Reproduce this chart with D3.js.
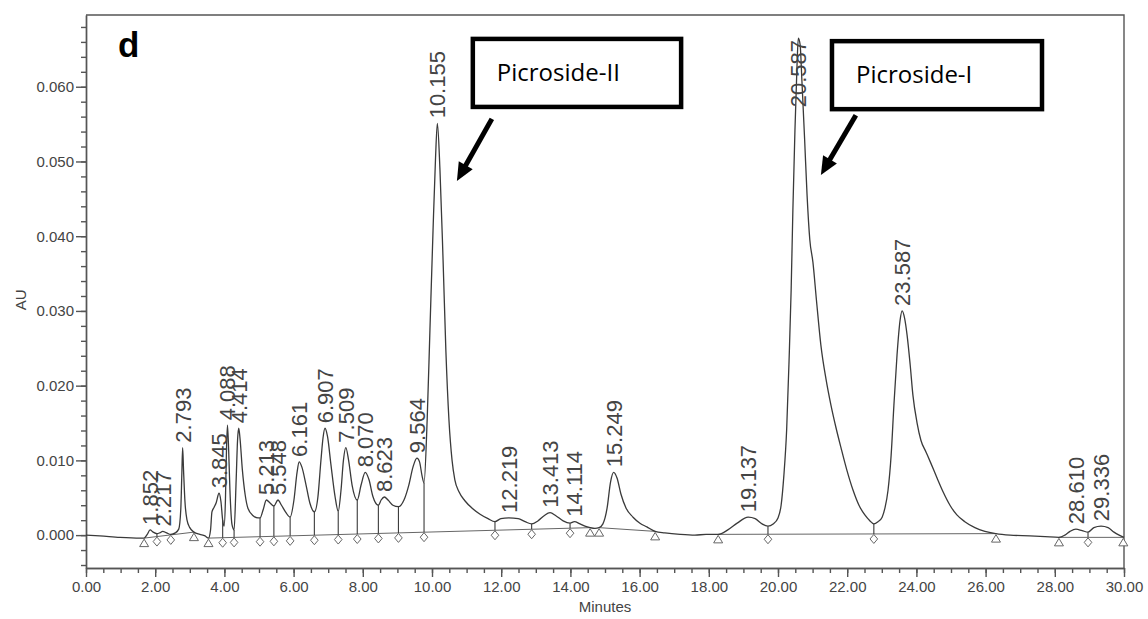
<!DOCTYPE html>
<html>
<head>
<meta charset="utf-8">
<script src="https://cdn.jsdelivr.net/npm/d3@7"></script>
<style>
  html, body { margin: 0; padding: 0; background: #fff; }
  svg { display: block; }
</style>
</head>
<body>
<svg id="chart" width="1148" height="619"></svg>
<script>
// Detector trace: [retention time (min), absorbance (AU)]
const trace = [
  [0.00, 0.0000], [0.40, -0.0001], [0.98, -0.0003], [1.56, -0.0004], [1.68, -0.0004],
  [1.77, 0.0001], [1.852, 0.0007], [1.94, 0.0004], [2.05, 0.0002], [2.13, 0.0003],
  [2.217, 0.0005], [2.33, 0.0003], [2.45, 0.0001], [2.58, 0.0003], [2.68, 0.0008],
  [2.74, 0.0035], [2.77, 0.0082], [2.793, 0.0117], [2.82, 0.0086], [2.86, 0.0045],
  [2.92, 0.0020], [3.00, 0.0010], [3.12, 0.0004], [3.29, 0.0001], [3.44, -0.0001],
  [3.54, -0.0004], [3.60, 0.0007], [3.64, 0.0031], [3.70, 0.0037], [3.76, 0.0043],
  [3.845, 0.0056], [3.90, 0.0045], [3.95, 0.0020], [3.99, 0.0012], [4.03, 0.0047],
  [4.06, 0.0114], [4.088, 0.0147], [4.12, 0.0118], [4.16, 0.0060], [4.22, 0.0014],
  [4.28, 0.0007], [4.34, 0.0074], [4.38, 0.0127], [4.414, 0.0143], [4.45, 0.0130],
  [4.52, 0.0087], [4.60, 0.0054], [4.68, 0.0036], [4.83, 0.0026], [4.97, 0.0023],
  [5.03, 0.0023], [5.12, 0.0034], [5.213, 0.0047], [5.32, 0.0043], [5.43, 0.0039],
  [5.548, 0.0047], [5.65, 0.0040], [5.78, 0.0030], [5.90, 0.0024], [6.01, 0.0047],
  [6.10, 0.0084], [6.161, 0.0098], [6.24, 0.0091], [6.36, 0.0067], [6.47, 0.0043],
  [6.60, 0.0031], [6.70, 0.0050], [6.79, 0.0100], [6.85, 0.0130], [6.907, 0.0143],
  [6.98, 0.0132], [7.08, 0.0094], [7.20, 0.0051], [7.29, 0.0032], [7.37, 0.0060],
  [7.44, 0.0100], [7.509, 0.0117], [7.59, 0.0100], [7.69, 0.0067], [7.84, 0.0047],
  [7.95, 0.0067], [8.070, 0.0084], [8.18, 0.0074], [8.29, 0.0052], [8.45, 0.0040],
  [8.53, 0.0047], [8.623, 0.0051], [8.73, 0.0047], [8.87, 0.0040], [9.03, 0.0038],
  [9.19, 0.0047], [9.33, 0.0067], [9.45, 0.0091], [9.564, 0.0103], [9.64, 0.0098],
  [9.71, 0.0080], [9.77, 0.0070], [9.86, 0.0154], [9.94, 0.0274], [10.03, 0.0408],
  [10.10, 0.0502], [10.155, 0.0551], [10.23, 0.0489], [10.32, 0.0368], [10.40, 0.0248],
  [10.49, 0.0154], [10.58, 0.0100], [10.66, 0.0074], [10.78, 0.0058], [10.95, 0.0046],
  [11.16, 0.0036], [11.39, 0.0028], [11.62, 0.0022], [11.82, 0.0018], [11.99, 0.0022],
  [12.219, 0.0023], [12.49, 0.0022], [12.69, 0.0018], [12.88, 0.0015], [13.06, 0.0019],
  [13.24, 0.0026], [13.413, 0.0030], [13.58, 0.0026], [13.79, 0.0019], [13.99, 0.0016],
  [14.114, 0.0018], [14.28, 0.0015], [14.42, 0.0012], [14.57, 0.0010], [14.71, 0.0009],
  [14.83, 0.0010], [14.94, 0.0015], [15.06, 0.0036], [15.16, 0.0071], [15.249, 0.0084],
  [15.35, 0.0076], [15.46, 0.0055], [15.61, 0.0036], [15.81, 0.0024], [16.01, 0.0016],
  [16.21, 0.0011], [16.45, 0.0005], [16.73, 0.0003], [17.17, 0.0001], [17.60, 0.0000],
  [17.92, 0.0001], [18.27, 0.0001], [18.55, 0.0007], [18.82, 0.0016], [19.137, 0.0024],
  [19.34, 0.0022], [19.54, 0.0015], [19.71, 0.0012], [19.86, 0.0015], [20.00, 0.0023],
  [20.09, 0.0040], [20.17, 0.0080], [20.25, 0.0141], [20.32, 0.0234], [20.38, 0.0328],
  [20.43, 0.0435], [20.49, 0.0542], [20.55, 0.0629], [20.587, 0.0665], [20.64, 0.0656],
  [20.69, 0.0609], [20.77, 0.0529], [20.84, 0.0455], [20.92, 0.0395], [21.01, 0.0365],
  [21.11, 0.0315], [21.24, 0.0254], [21.39, 0.0208], [21.53, 0.0174], [21.68, 0.0143],
  [21.82, 0.0117], [21.99, 0.0087], [22.17, 0.0060], [22.34, 0.0040], [22.51, 0.0027],
  [22.66, 0.0019], [22.77, 0.0015], [22.89, 0.0018], [23.01, 0.0024], [23.09, 0.0036],
  [23.18, 0.0060], [23.27, 0.0107], [23.35, 0.0174], [23.44, 0.0241], [23.53, 0.0288],
  [23.587, 0.0300], [23.66, 0.0290], [23.73, 0.0268], [23.82, 0.0228], [23.90, 0.0187],
  [24.02, 0.0150], [24.13, 0.0127], [24.28, 0.0111], [24.42, 0.0096], [24.60, 0.0076],
  [24.77, 0.0058], [24.97, 0.0040], [25.17, 0.0027], [25.40, 0.0018], [25.69, 0.0010],
  [25.98, 0.0005], [26.30, 0.0002], [26.71, 0.0000], [27.28, -0.0001], [27.72, -0.0002],
  [28.12, -0.0003], [28.29, 0.0000], [28.44, 0.0005], [28.610, 0.0008], [28.79, 0.0006],
  [28.96, 0.0004], [29.13, 0.0010], [29.336, 0.0012], [29.54, 0.0010], [29.71, 0.0004],
  [29.86, 0.0000], [30.00, -0.0003]
];

// Integrated peaks: apex retention time and height
const peakTimes   = [1.852, 2.217, 2.793, 3.845, 4.088, 4.414, 5.213, 5.548, 6.161, 6.907, 7.509, 8.070,
                     8.623, 9.564, 10.155, 12.219, 13.413, 14.114, 15.249, 19.137, 20.587, 23.587, 28.610, 29.336];
const peakHeights = [0.0007, 0.0005, 0.0117, 0.0056, 0.0147, 0.0143, 0.0047, 0.0047, 0.0098, 0.0143, 0.0117, 0.0084,
                     0.0051, 0.0103, 0.0551, 0.0023, 0.0030, 0.0018, 0.0084, 0.0024, 0.0665, 0.0300, 0.0008, 0.0012];
const peakLabels  = ["1.852", "2.217", "2.793", "3.845", "4.088", "4.414", "5.213", "5.548", "6.161", "6.907", "7.509", "8.070",
                     "8.623", "9.564", "10.155", "12.219", "13.413", "14.114", "15.249", "19.137", "20.587", "23.587", "28.610", "29.336"];

// Integration baselines: [start time, start AU, end time, end AU]
const baselineSegments = [
  [1.68, -0.0004, 3.12, 0.0004],
  [3.54, -0.0004, 14.57, 0.0010],
  [14.83, 0.0010, 16.45, 0.0005],
  [18.27, 0.0001, 26.30, 0.0002],
  [28.12, -0.0003, 29.98, -0.0003]
];
// Valley drop-line times (min)
const dropTimes = [2.05, 2.45, 3.95, 4.28, 5.03, 5.43, 5.90, 6.60, 7.29, 7.84, 8.45, 9.03, 9.77,
                   11.82, 12.88, 13.99, 19.71, 22.77, 28.96];

// Axis ticks
const xMajorTicks = d3.range(0, 30.001, 2);
const xMinorTicks = d3.range(0, 30.001, 0.5);
const yMajorTicks = [0.000, 0.010, 0.020, 0.030, 0.040, 0.050, 0.060];
const yMinorTicks = d3.range(-0.004, 0.0690, 0.002);

// Callouts: box corner (time, AU), box size in data units, arrow tail -> tip
const callouts = [
  { text: "Picroside-II", boxT: 11.18, boxV: 0.0664, boxT2: 17.20, boxV2: 0.0573,
    tailT: 11.73, tailV: 0.0557, tipT: 10.72, tipV: 0.0474 },
  { text: "Picroside-I", boxT: 21.56, boxV: 0.0661, boxT2: 27.63, boxV2: 0.0570,
    tailT: 22.25, tailV: 0.0562, tipT: 21.24, tipV: 0.0482 }
];

const svg = d3.select("#chart");
const x = d3.scaleLinear().domain([0, 30]).range([86, 1124]);
const y = d3.scaleLinear().domain([-0.0044, 0.0696]).range([568, 15]);

const axisColor = "#555";
const textColor = "#444";
const fontAxis = "'Liberation Sans', Arial, sans-serif";

// Frame (top and right edges)
svg.append("path")
  .attr("d", `M${x(0)},${y(0.0696)}H${x(30)}V${y(-0.0044)}`)
  .attr("fill", "none").attr("stroke", axisColor).attr("stroke-width", 1.4);

// Y axis
svg.append("g").attr("transform", `translate(${x(0)},0)`)
  .call(d3.axisLeft(y).tickValues(yMinorTicks).tickSize(5).tickSizeOuter(0).tickFormat(""));
svg.append("g").attr("transform", `translate(${x(0)},0)`)
  .call(d3.axisLeft(y).tickValues(yMajorTicks).tickSize(10).tickSizeOuter(0)
    .tickPadding(2).tickFormat(d3.format(".3f")));
// X axis
svg.append("g").attr("transform", `translate(0,${y(-0.0044)})`)
  .call(d3.axisBottom(x).tickValues(xMinorTicks).tickSize(5).tickSizeOuter(0).tickFormat(""));
svg.append("g").attr("transform", `translate(0,${y(-0.0044)})`)
  .call(d3.axisBottom(x).tickValues(xMajorTicks).tickSize(9).tickSizeOuter(0)
    .tickPadding(4).tickFormat(d3.format(".2f")));

svg.selectAll(".domain, .tick line").attr("stroke", axisColor).attr("stroke-width", 1.4);
svg.selectAll(".tick text").attr("fill", textColor)
  .style("font-family", fontAxis).style("font-size", "15px");

// Axis titles
svg.append("text")
  .attr("transform", `translate(26,${y(0.0315)}) rotate(-90)`)
  .attr("text-anchor", "middle")
  .style("font-family", fontAxis).style("font-size", "15px").attr("fill", textColor)
  .text("AU");
svg.append("text")
  .attr("x", x(15)).attr("y", 612)
  .attr("text-anchor", "middle")
  .style("font-family", fontAxis).style("font-size", "15px").attr("fill", textColor)
  .text("Minutes");

// Linear lookup on the trace
const bis = d3.bisector(d => d[0]).left;
function traceAt(t) {
  const i = Math.max(1, Math.min(trace.length - 1, bis(trace, t)));
  const a = trace[i - 1], b = trace[i];
  return a[1] + (b[1] - a[1]) * (t - a[0]) / (b[0] - a[0]);
}
function baselineAt(t) {
  const s = baselineSegments.find(d => t >= d[0] && t <= d[2]);
  return s[1] + (s[3] - s[1]) * (t - s[0]) / (s[2] - s[0]);
}

const inkColor = "#3a3a3a";

// Baselines
svg.append("g").selectAll("line").data(baselineSegments).join("line")
  .attr("x1", d => x(d[0])).attr("y1", d => y(d[1]))
  .attr("x2", d => x(d[2])).attr("y2", d => y(d[3]))
  .attr("stroke", "#666").attr("stroke-width", 1);

// Drop lines
svg.append("g").selectAll("line").data(dropTimes).join("line")
  .attr("x1", d => x(d)).attr("x2", d => x(d))
  .attr("y1", d => y(traceAt(d))).attr("y2", d => y(baselineAt(d)))
  .attr("stroke", inkColor).attr("stroke-width", 1.1);

// Trace
svg.append("path")
  .datum(trace)
  .attr("d", d3.line().x(d => x(d[0])).y(d => y(d[1])).curve(d3.curveMonotoneX))
  .attr("fill", "none").attr("stroke", inkColor).attr("stroke-width", 1.3)
  .attr("stroke-linejoin", "round");

// Baseline start/end markers (triangles) and drop markers (diamonds)
const ends = baselineSegments.flatMap(d => [[d[0], d[1]], [d[2], d[3]]]);
svg.append("g").selectAll("path").data(ends).join("path")
  .attr("transform", d => `translate(${x(d[0])},${y(d[1]) + 5})`)
  .attr("d", "M0,-4L4.5,3.5L-4.5,3.5Z")
  .attr("fill", "#fff").attr("stroke", "#666").attr("stroke-width", 1);
svg.append("g").selectAll("path").data(dropTimes).join("path")
  .attr("transform", d => `translate(${x(d)},${y(baselineAt(d)) + 5})`)
  .attr("d", "M0,-4.5L3.8,0L0,4.5L-3.8,0Z")
  .attr("fill", "#fff").attr("stroke", "#666").attr("stroke-width", 1);

// Peak retention-time labels
const labelTop = 40;
const labels = svg.append("g").selectAll("text").data(peakTimes).join("text")
  .style("font-family", fontAxis).style("font-size", "22px").attr("fill", textColor)
  .attr("dy", "0.36em")
  .text((d, i) => peakLabels[i]);
labels.each(function (d, i) {
  const len = this.getComputedTextLength();
  let bottom = y(peakHeights[i]) - 5;
  if (bottom - len < labelTop) bottom = labelTop + len;
  d3.select(this).attr("transform", `translate(${x(d)},${bottom}) rotate(-90)`);
});

// Panel letter
svg.append("text")
  .attr("x", 118).attr("y", 57)
  .style("font-family", "'Liberation Sans', Arial, sans-serif")
  .style("font-size", "35px").style("font-weight", "bold")
  .attr("fill", "#000")
  .text("d");

// Callouts
const cg = svg.append("g").selectAll("g").data(callouts).join("g");
cg.append("rect")
  .attr("x", d => x(d.boxT)).attr("y", d => y(d.boxV))
  .attr("width", d => x(d.boxT2) - x(d.boxT)).attr("height", d => y(d.boxV2) - y(d.boxV))
  .attr("fill", "#fff").attr("stroke", "#000").attr("stroke-width", 4.5);
cg.append("text")
  .attr("x", d => x(d.boxT) + 24).attr("y", d => y(d.boxV) + 42)
  .style("font-family", "'Open Sans', 'Noto Sans', sans-serif").style("font-size", "24px")
  .attr("fill", "#000")
  .text(d => d.text);
cg.each(function (d) {
  const g = d3.select(this);
  const x0 = x(d.tailT), y0 = y(d.tailV), x1 = x(d.tipT), y1 = y(d.tipV);
  const len = Math.hypot(x1 - x0, y1 - y0);
  const ux = (x1 - x0) / len, uy = (y1 - y0) / len;
  const head = 18, half = 8;
  const bx = x1 - ux * head, by = y1 - uy * head;
  g.append("line")
    .attr("x1", x0).attr("y1", y0).attr("x2", bx + ux * 2).attr("y2", by + uy * 2)
    .attr("stroke", "#000").attr("stroke-width", 5);
  g.append("path")
    .attr("d", `M${x1},${y1}L${bx - uy * half},${by + ux * half}L${bx + uy * half},${by - ux * half}Z`)
    .attr("fill", "#000");
});
</script>
</body>
</html>
